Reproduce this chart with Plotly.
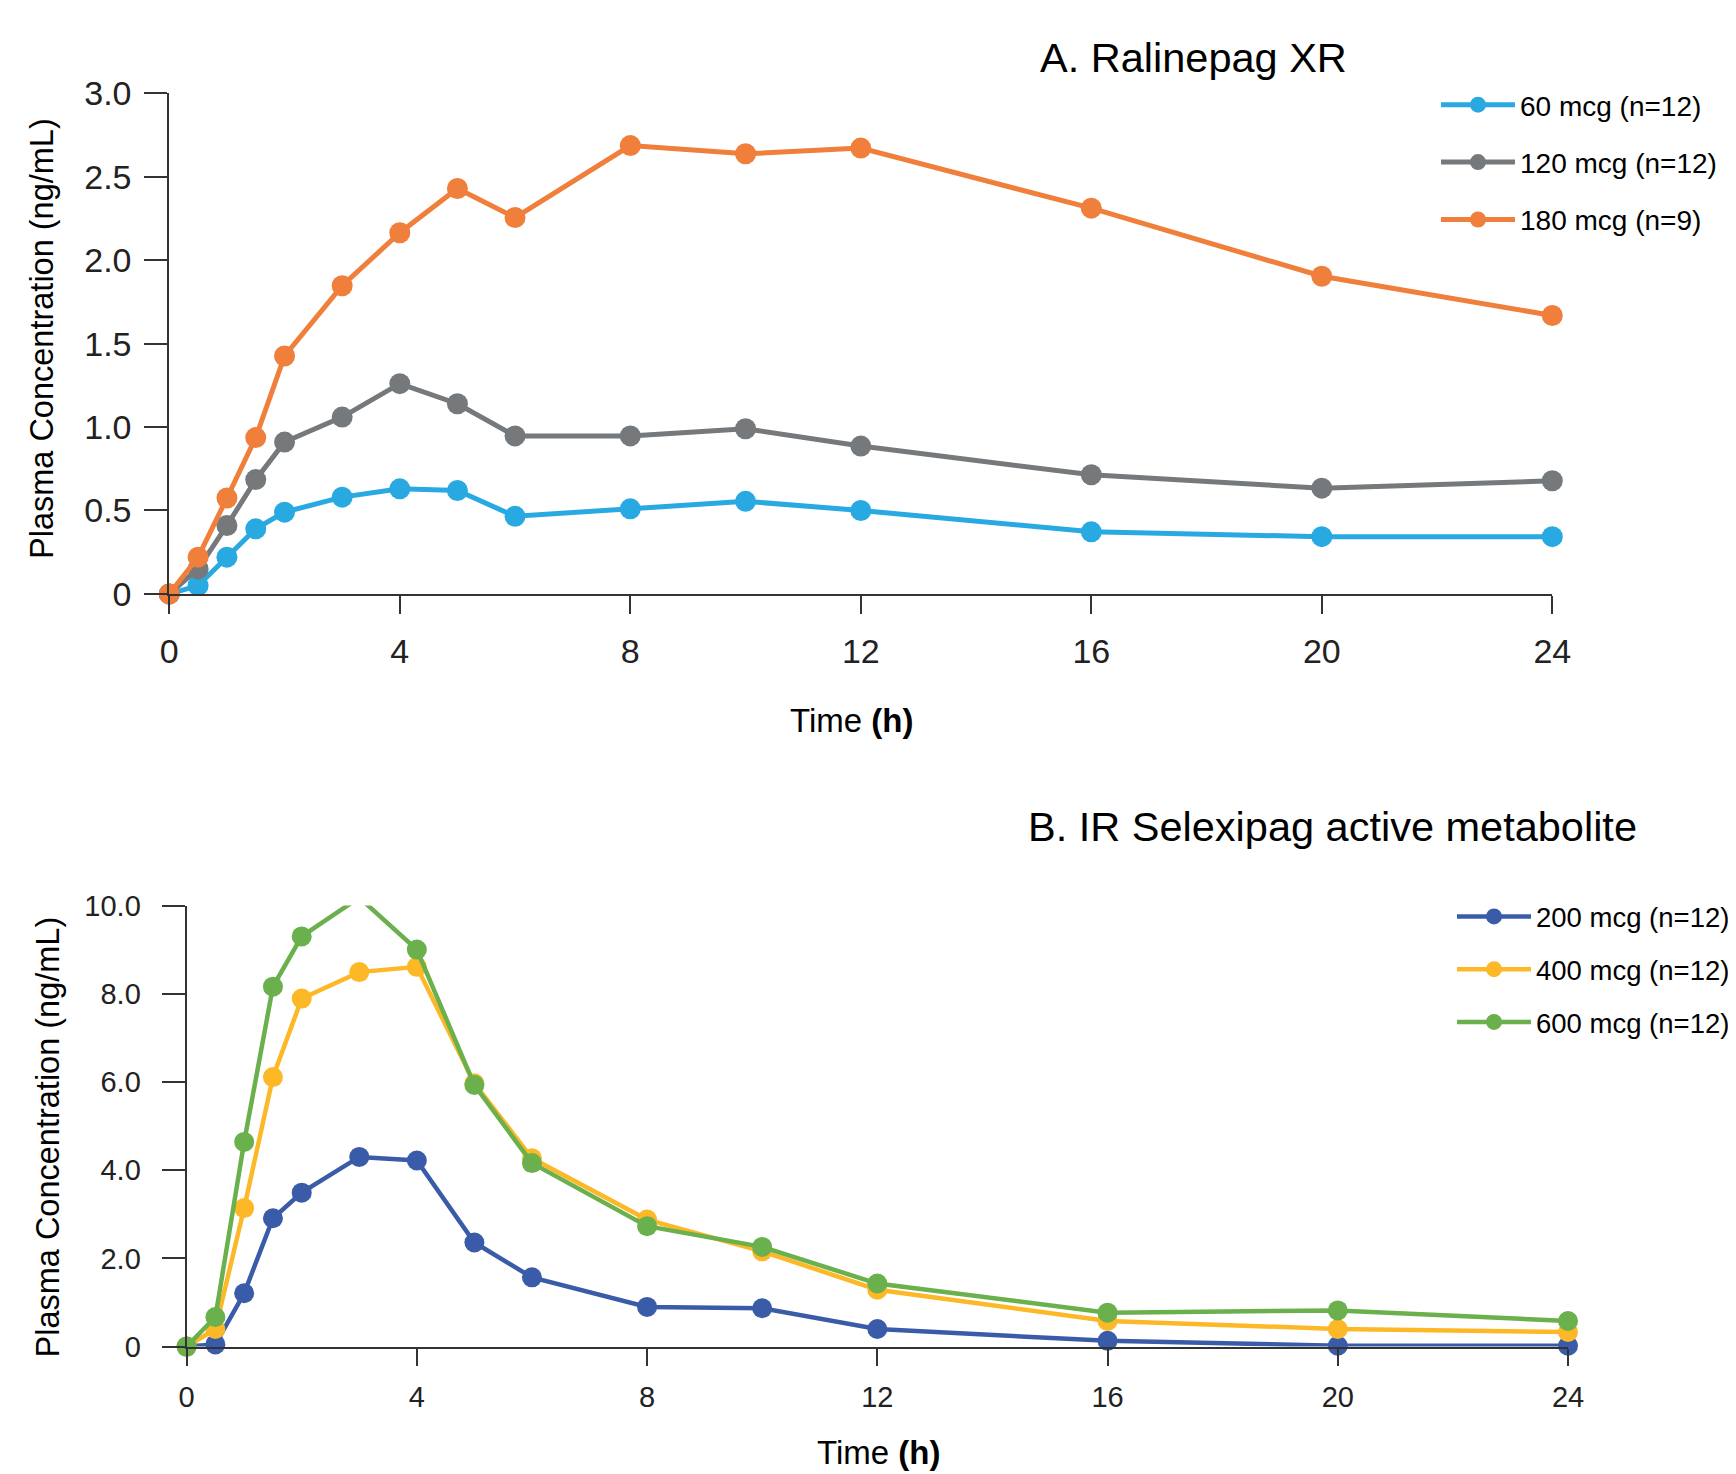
import plotly.graph_objects as go

# ---------------- data ----------------
time_a = [0, 0.5, 1, 1.5, 2, 3, 4, 5, 6, 8, 10, 12, 16, 20, 24]
ral_60 = [0, 0.05, 0.22, 0.39, 0.49, 0.58, 0.63, 0.62, 0.465, 0.51, 0.555, 0.50, 0.372, 0.343, 0.343]
ral_120 = [0, 0.15, 0.41, 0.685, 0.91, 1.06, 1.26, 1.14, 0.947, 0.947, 0.99, 0.886, 0.714, 0.634, 0.678]
ral_180 = [0, 0.22, 0.575, 0.937, 1.426, 1.847, 2.165, 2.43, 2.256, 2.687, 2.638, 2.672, 2.312, 1.904, 1.669]

time_b = [0, 0.5, 1, 1.5, 2, 3, 4, 5, 6, 8, 10, 12, 16, 20, 24]
sel_200 = [0, 0.05, 1.21, 2.91, 3.49, 4.30, 4.22, 2.36, 1.57, 0.90, 0.87, 0.40, 0.13, 0.02, 0.02]
sel_400 = [0, 0.40, 3.14, 6.11, 7.89, 8.49, 8.61, 5.97, 4.27, 2.88, 2.16, 1.29, 0.58, 0.40, 0.33]
sel_600 = [0, 0.67, 4.64, 8.16, 9.30, 10.18, 9.00, 5.93, 4.16, 2.73, 2.26, 1.43, 0.77, 0.82, 0.58]

names_a = ["60 mcg (n=12)", "120 mcg (n=12)", "180 mcg (n=9)"]
names_b = ["200 mcg (n=12)", "400 mcg (n=12)", "600 mcg (n=12)"]

x_ticks = [0, 4, 8, 12, 16, 20, 24]
ya_ticks = [0, 0.5, 1.0, 1.5, 2.0, 2.5, 3.0]
ya_text = ["0", "0.5", "1.0", "1.5", "2.0", "2.5", "3.0"]
yb_ticks = [0, 2, 4, 6, 8, 10]
yb_text = ["0", "2.0", "4.0", "6.0", "8.0", "10.0"]

colors_a = ["#29a9e1", "#76797c", "#ef7f3a"]
colors_b = ["#3a5ca8", "#fdb827", "#6ab04c"]

W, H = 1736, 1474
OFF = 8  # page body margin offset
FONT = "Liberation Sans, Arial, Helvetica, sans-serif"
AXC = "#333333"
TXT = "#222222"

fig = go.Figure()

for i, (vals, nm, c) in enumerate(zip([ral_60, ral_120, ral_180], names_a, colors_a)):
    fig.add_trace(go.Scatter(
        x=time_a, y=vals, name=nm, mode="lines+markers",
        line=dict(color=c, width=5), marker=dict(color=c, size=21),
        cliponaxis=False, xaxis="x", yaxis="y", legend="legend",
        legendgroup="a%d" % i,
    ))

for i, (vals, nm, c) in enumerate(zip([sel_200, sel_400, sel_600], names_b, colors_b)):
    fig.add_trace(go.Scatter(
        x=time_b, y=vals, name=nm, mode="lines+markers",
        line=dict(color=c, width=4.5), marker=dict(color=c, size=20),
        cliponaxis=False, xaxis="x2", yaxis="y2", legend="legend2",
        legendgroup="b%d" % i,
    ))


def px_x(v):
    return (v - OFF) / W


def px_y(v):
    return 1 - (v - OFF) / H


axis_common = dict(
    showline=True, linecolor=AXC, linewidth=2, ticks="outside",
    tickcolor=AXC, tickwidth=2, showgrid=False, zeroline=False,
    automargin=False,
)

fig.update_layout(
    width=W, height=H,
    margin=dict(l=0, r=0, t=0, b=0, autoexpand=False),
    paper_bgcolor="white", plot_bgcolor="white",
    showlegend=True,
    xaxis=dict(axis_common, domain=[px_x(169.3), px_x(1552.3)], range=[0, 24],
               tickvals=x_ticks, ticklen=18, anchor="y",
               tickfont=dict(family=FONT, size=34, color=TXT),
               ticklabelstandoff=8),
    yaxis=dict(axis_common, domain=[px_y(593.9), px_y(93.4)], range=[0, 3],
               tickvals=ya_ticks, ticktext=ya_text, ticklen=23, anchor="x",
               tickfont=dict(family=FONT, size=34, color=TXT),
               ticklabelstandoff=6),
    xaxis2=dict(axis_common, domain=[px_x(186.6), px_x(1568)], range=[0, 24],
                tickvals=x_ticks, ticklen=17, anchor="y2",
                tickfont=dict(family=FONT, size=29, color=TXT),
                ticklabelstandoff=7),
    yaxis2=dict(axis_common, domain=[px_y(1346.6), px_y(905.5)], range=[0, 10],
                tickvals=yb_ticks, ticktext=yb_text, ticklen=23, anchor="x2",
                tickfont=dict(family=FONT, size=29, color=TXT),
                ticklabelstandoff=15),
    legend=dict(
        x=px_x(1436), y=px_y(80), xanchor="left", yanchor="top",
        font=dict(family=FONT, size=28, color="black"),
        itemwidth=74, tracegroupgap=18, bgcolor="rgba(0,0,0,0)",
        traceorder="grouped",
    ),
    legend2=dict(
        x=px_x(1452), y=px_y(892), xanchor="left", yanchor="top",
        font=dict(family=FONT, size=27.5, color="black"),
        itemwidth=74, tracegroupgap=14, bgcolor="rgba(0,0,0,0)",
        traceorder="grouped",
    ),
)

annos = [
    dict(text="A. Ralinepag XR", x=px_x(1193), y=px_y(58), size=41.5, angle=0),
    dict(text="B. IR Selexipag active metabolite", x=px_x(1332), y=px_y(826), size=41.5, angle=0),
    dict(text="Time <b>(h)</b>", x=px_x(851), y=px_y(720), size=33, angle=0),
    dict(text="Time <b>(h)</b>", x=px_x(878), y=px_y(1452), size=33, angle=0),
    dict(text="Plasma Concentration (ng/mL)", x=px_x(41.5), y=px_y(338.5), size=32.5, angle=-90),
    dict(text="Plasma Concentration (ng/mL)", x=px_x(47), y=px_y(1137.5), size=32.5, angle=-90),
]
for a in annos:
    fig.add_annotation(
        text=a["text"], x=a["x"], y=a["y"], xref="paper", yref="paper",
        xanchor="center", yanchor="middle", showarrow=False, textangle=a["angle"],
        font=dict(family=FONT, size=a["size"], color="black"),
    )

fig.write_html("out.html")
